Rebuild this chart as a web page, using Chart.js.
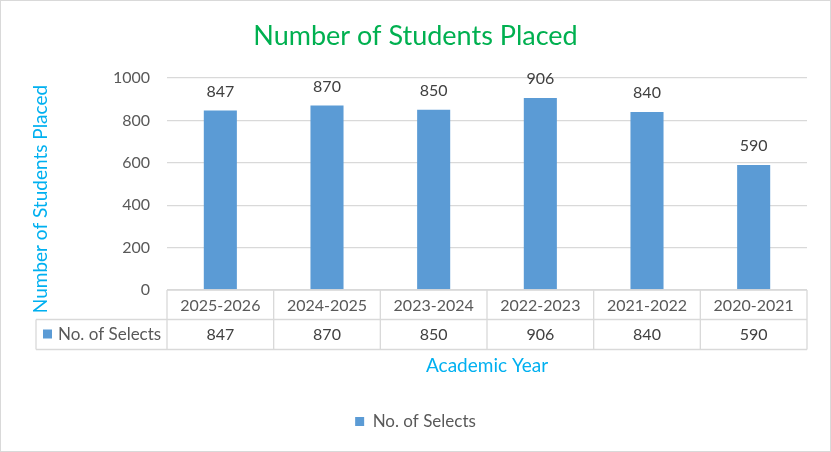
<!DOCTYPE html>
<html>
<head>
<meta charset="utf-8">
<script src="https://cdn.jsdelivr.net/npm/chart.js@4.4.0/dist/chart.umd.min.js"></script>
<style>
  body { margin: 0; background: #fff; }
</style>
</head>
<body>
<canvas id="placedChart" width="831" height="452"></canvas>
<script>
// Chart data
const years = ["2025-2026", "2024-2025", "2023-2024", "2022-2023", "2021-2022", "2020-2021"];
const selects = [847, 870, 850, 906, 840, 590];
const yTicks = [0, 200, 400, 600, 800, 1000];
const seriesName = "No. of Selects";

const FONT = "Lato, 'Open Sans', sans-serif";
const GRID = "#d9d9d9";
const BAR = "#5b9bd5";

// Value labels above the bars
const barLabels = {
  id: "barLabels",
  afterDatasetsDraw(chart) {
    const ctx = chart.ctx;
    const meta = chart.getDatasetMeta(0);
    ctx.save();
    ctx.font = "16px " + FONT;
    ctx.fillStyle = "#404040";
    ctx.textAlign = "center";
    ctx.textBaseline = "middle";
    meta.data.forEach((bar, i) => {
      ctx.fillText(String(selects[i]), bar.x, bar.y - 19);
    });
    ctx.restore();
  }
};

// Excel-like data table under the plot, titles and frame
const dataTable = {
  id: "dataTable",
  afterDraw(chart) {
    const ctx = chart.ctx;
    const x = chart.scales.x;
    const area = chart.chartArea;
    const step = x.width / years.length;
    const top = area.bottom;
    const mid = top + 29.5;
    const bottom = top + 59.5;
    const tableLeft = 36;

    ctx.save();
    ctx.strokeStyle = GRID;
    ctx.lineWidth = 1.3;
    ctx.beginPath();
    ctx.moveTo(x.left, top); ctx.lineTo(x.right, top);
    ctx.moveTo(tableLeft, mid); ctx.lineTo(x.right, mid);
    ctx.moveTo(tableLeft, bottom); ctx.lineTo(x.right, bottom);
    ctx.moveTo(tableLeft, mid); ctx.lineTo(tableLeft, bottom);
    for (let i = 0; i <= years.length; i++) {
      const px = x.left + i * step;
      ctx.moveTo(px, top); ctx.lineTo(px, bottom);
    }
    ctx.stroke();

    // legend key + values row
    const rowY = (mid + bottom) / 2;
    ctx.fillStyle = BAR;
    ctx.fillRect(tableLeft + 7, rowY - 5, 9, 9);
    ctx.font = "17px " + FONT;
    ctx.fillStyle = "#595959";
    ctx.textBaseline = "middle";
    ctx.textAlign = "left";
    ctx.fillText(seriesName, tableLeft + 22, rowY);
    ctx.textAlign = "center";
    ctx.font = "16px " + FONT;
    ctx.fillStyle = "#404040";
    selects.forEach((v, i) => {
      ctx.fillText(String(v), x.getPixelForValue(i), rowY);
    });

    // chart title
    ctx.font = "27px " + FONT;
    ctx.fillStyle = "#00b050";
    ctx.fillText("Number of Students Placed", chart.width / 2, 36);

    // y axis title
    ctx.save();
    ctx.translate(41, 199);
    ctx.rotate(-Math.PI / 2);
    ctx.font = "19px " + FONT;
    ctx.fillStyle = "#00b0f0";
    ctx.fillText("Number of Students Placed", 0, 0);
    ctx.restore();

    // chart frame
    ctx.strokeStyle = GRID;
    ctx.lineWidth = 1;
    ctx.strokeRect(0.5, 0.5, chart.width - 1, chart.height - 1);
    ctx.restore();
  }
};

const ctx = document.getElementById("placedChart").getContext("2d");
new Chart(ctx, {
  type: "bar",
  data: {
    labels: years,
    datasets: [{
      label: seriesName,
      data: selects,
      backgroundColor: BAR,
      categoryPercentage: 1,
      barPercentage: 0.31
    }]
  },
  options: {
    responsive: false,
    animation: false,
    layout: { padding: { left: 0, right: 0, top: 78, bottom: 12 } },
    scales: {
      x: {
        grid: { display: false, drawTicks: false },
        border: { display: false },
        ticks: { color: "#595959", font: { family: FONT, size: 16 }, padding: 6, maxRotation: 0 },
        title: {
          display: true,
          text: "Academic Year",
          color: "#00b0f0",
          font: { family: FONT, size: 19 },
          padding: { top: 33, bottom: 26 }
        }
      },
      y: {
        min: 0,
        max: 1000,
        afterFit: s => { s.width = 167; },
        afterBuildTicks: s => { s.ticks = yTicks.map(v => ({ value: v })); },
        grid: { color: GRID, lineWidth: 1.3, drawTicks: false },
        border: { display: false },
        ticks: {
          color: "#595959",
          font: { family: FONT, size: 16 },
          padding: 17,
          callback: v => String(v)
        }
      },
      // empty right-hand axis that only keeps the plot's right margin
      yRight: {
        position: "right",
        afterFit: s => { s.width = 24; },
        grid: { display: false, drawTicks: false },
        border: { display: false },
        ticks: { display: false }
      }
    },
    plugins: {
      title: { display: false },
      legend: {
        position: "bottom",
        labels: {
          boxWidth: 9,
          boxHeight: 9,
          color: "#595959",
          font: { family: FONT, size: 17 }
        }
      },
      tooltip: { enabled: false }
    }
  },
  plugins: [barLabels, dataTable]
});
</script>
</body>
</html>
